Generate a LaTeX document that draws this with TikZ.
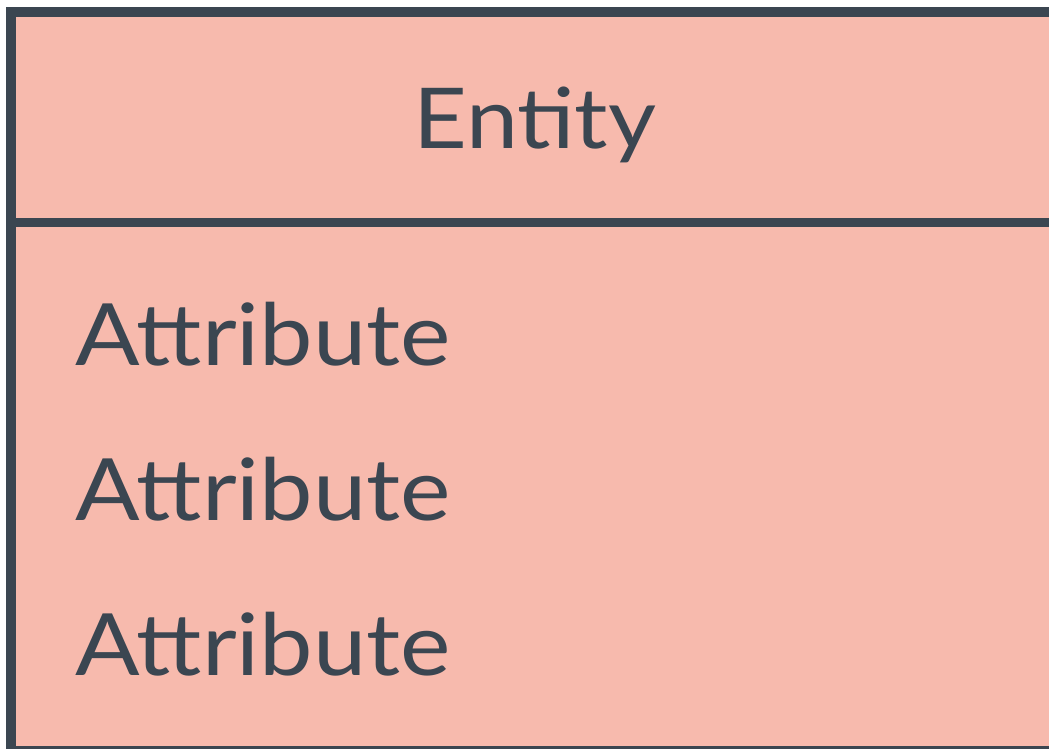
\documentclass[tikz,border=0pt]{standalone}
\usepackage{fontspec}
\setmainfont{Lato}[FakeStretch=1.11]
\usepackage{xcolor}
\usepackage{tikz}
\usetikzlibrary{positioning}
\definecolor{boxfill}{HTML}{F7BAAD}
\definecolor{boxline}{HTML}{3B4651}
\tikzstyle{entitybox} = [rectangle, draw=boxline, fill=boxfill, line width=10pt, outer sep=0pt, inner sep=0pt]
\tikzstyle{divider} = [draw=boxline, line width=9pt]
\tikzstyle{titletext} = [text=boxline, font=\fontsize{84}{100}\selectfont, anchor=base]
\tikzstyle{attrtext} = [text=boxline, font=\fontsize{86}{100}\selectfont, anchor=base west, inner sep=0pt]

\begin{document}
\begin{tikzpicture}[x=1pt, y=-1pt]

\useasboundingbox (0,0) rectangle (1049,749);
\fill [white] (0,0) rectangle (1049,749);

\node [entitybox, anchor=north west, minimum width=1060pt, minimum height=738pt] at (11,12.5) (box) {};

\path [divider] (box.west |- 0,222) to (box.east |- 0,222);

\node [titletext] at (535,148) (title) {Entity};

\node [attrtext] at (75,365) (attr1) {Attribute};
\node [attrtext] at (75,520) (attr2) {Attribute};
\node [attrtext] at (75,675) (attr3) {Attribute};

\end{tikzpicture}
\end{document}
